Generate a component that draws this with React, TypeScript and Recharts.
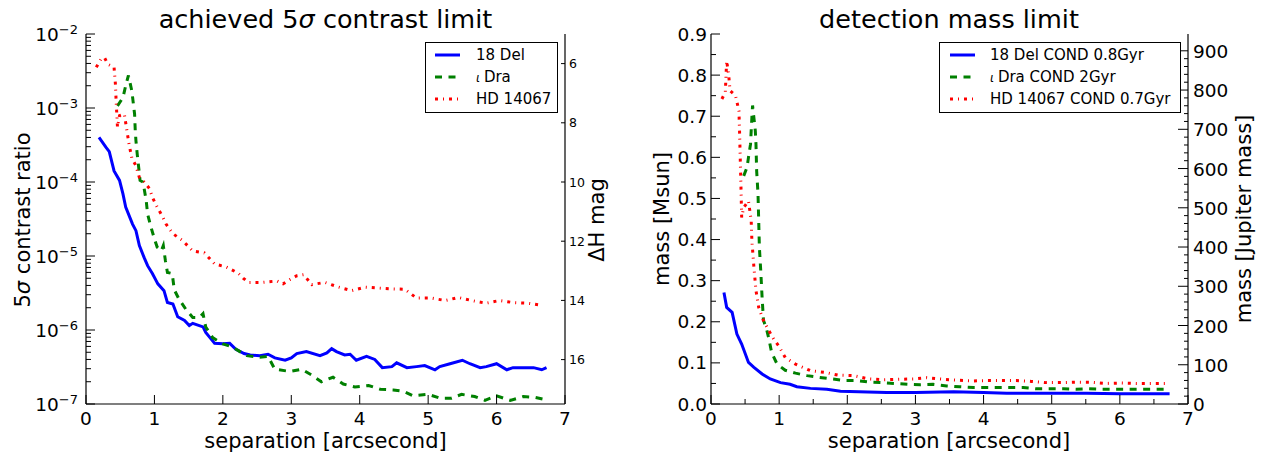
import React from 'react';
import { LineChart, Line, XAxis, YAxis } from 'recharts';

const FONT = '"DejaVu Sans", Verdana, sans-serif';

// axis ticks
const SEP_TICKS = [0, 1, 2, 3, 4, 5, 6, 7];
const SEP_HALF = [0.5, 1.5, 2.5, 3.5, 4.5, 5.5, 6.5];
const CONTRAST_EXP = [-7, -6, -5, -4, -3, -2];
const DH_TICKS = [6, 8, 10, 12, 14, 16];
const MSUN_TICKS = [0, 0.1, 0.2, 0.3, 0.4, 0.5, 0.6, 0.7, 0.8, 0.9];

// left panel: 5 sigma contrast ratio vs separation [arcsec]
const del18Contrast: [number, number][] = [
  [0.19, 4.0e-4], [0.29, 2.95e-4], [0.34, 2.57e-4], [0.41, 1.41e-4], [0.49, 1.05e-4],
  [0.54, 6.9e-5], [0.58, 4.6e-5], [0.68, 2.7e-5], [0.73, 2.2e-5], [0.78, 1.38e-5],
  [0.85, 9.5e-6], [0.9, 7.4e-6], [0.97, 5.8e-6], [1.05, 4.2e-6], [1.14, 3.4e-6],
  [1.19, 2.35e-6], [1.27, 2.24e-6], [1.34, 1.51e-6], [1.44, 1.35e-6], [1.51, 1.15e-6],
  [1.56, 1.23e-6], [1.71, 1.1e-6], [1.75, 9.3e-7], [1.88, 6.6e-7], [2.0, 6.5e-7],
  [2.1, 6.6e-7], [2.19, 5.5e-7], [2.31, 4.8e-7], [2.4, 4.6e-7], [2.54, 4.5e-7],
  [2.66, 4.7e-7], [2.76, 4.2e-7], [2.91, 3.9e-7], [3.0, 4.2e-7], [3.08, 4.8e-7],
  [3.22, 5.1e-7], [3.42, 4.5e-7], [3.52, 4.9e-7], [3.59, 5.6e-7], [3.66, 5.1e-7],
  [3.78, 4.6e-7], [3.86, 4.7e-7], [3.95, 3.9e-7], [4.1, 4.4e-7], [4.22, 4.0e-7],
  [4.33, 3.1e-7], [4.47, 3.2e-7], [4.54, 3.6e-7], [4.69, 3.1e-7], [4.83, 3.2e-7],
  [4.95, 3.3e-7], [5.1, 2.9e-7], [5.17, 3.2e-7], [5.32, 3.5e-7], [5.5, 3.9e-7],
  [5.61, 3.5e-7], [5.76, 3.1e-7], [5.85, 3.2e-7], [6.0, 3.5e-7], [6.15, 2.9e-7],
  [6.24, 3.1e-7], [6.37, 3.1e-7], [6.54, 3.1e-7], [6.66, 2.9e-7], [6.73, 3.1e-7],
];

const iotaDraContrast: [number, number][] = [
  [0.46, 1.07e-3], [0.54, 1.38e-3], [0.58, 2.0e-3], [0.62, 2.75e-3], [0.67, 1.7e-3],
  [0.71, 8.3e-4], [0.72, 4.9e-4], [0.73, 3.6e-4], [0.75, 2.3e-4], [0.77, 1.58e-4],
  [0.79, 1.05e-4], [0.83, 1.0e-4], [0.85, 8.1e-5], [0.88, 5.6e-5], [0.9, 3.7e-5],
  [0.95, 2.45e-5], [1.0, 1.7e-5], [1.04, 1.32e-5], [1.1, 1.17e-5], [1.13, 1.38e-5],
  [1.16, 8.7e-6], [1.19, 6.0e-6], [1.26, 5.8e-6], [1.29, 3.5e-6], [1.36, 2.6e-6],
  [1.46, 1.9e-6], [1.56, 1.48e-6], [1.66, 1.48e-6], [1.71, 1.66e-6], [1.75, 1.1e-6],
  [1.85, 7.9e-7], [2.0, 6.5e-7], [2.14, 5.9e-7], [2.25, 5.1e-7], [2.35, 4.5e-7],
  [2.54, 4.3e-7], [2.66, 4.4e-7], [2.76, 2.95e-7], [2.98, 2.75e-7], [3.15, 2.95e-7],
  [3.3, 2.45e-7], [3.44, 2.0e-7], [3.61, 2.3e-7], [3.76, 1.86e-7], [3.93, 1.7e-7],
  [4.13, 1.78e-7], [4.3, 1.58e-7], [4.49, 1.55e-7], [4.64, 1.48e-7], [4.78, 1.29e-7],
  [5.0, 1.35e-7], [5.17, 1.2e-7], [5.34, 1.2e-7], [5.49, 1.35e-7], [5.68, 1.26e-7],
  [5.83, 1.12e-7], [6.0, 1.29e-7], [6.2, 1.12e-7], [6.39, 1.26e-7], [6.56, 1.23e-7],
  [6.71, 1.15e-7],
];

const hd14067Contrast: [number, number][] = [
  [0.15, 3.55e-3], [0.22, 4.6e-3], [0.27, 4.8e-3], [0.32, 3.9e-3], [0.41, 3.55e-3],
  [0.43, 2.1e-3], [0.44, 1.26e-3], [0.45, 8.3e-4], [0.46, 5.5e-4], [0.49, 7.9e-4],
  [0.56, 8.3e-4], [0.59, 5.5e-4], [0.63, 3.2e-4], [0.67, 2.1e-4], [0.73, 1.66e-4],
  [0.78, 1.15e-4], [0.85, 1.0e-4], [0.93, 8.1e-5], [0.97, 6.2e-5], [1.05, 4.4e-5],
  [1.12, 3.4e-5], [1.17, 2.7e-5], [1.27, 2.0e-5], [1.41, 1.62e-5], [1.56, 1.17e-5],
  [1.73, 1.1e-5], [1.88, 7.8e-6], [2.05, 7.1e-6], [2.22, 5.9e-6], [2.3, 5.0e-6],
  [2.37, 4.4e-6], [2.57, 4.4e-6], [2.79, 4.6e-6], [2.88, 4.2e-6], [2.98, 4.8e-6],
  [3.08, 5.4e-6], [3.18, 5.6e-6], [3.3, 4.1e-6], [3.49, 4.4e-6], [3.69, 3.8e-6],
  [3.88, 3.4e-6], [4.08, 3.8e-6], [4.25, 3.7e-6], [4.47, 3.6e-6], [4.66, 3.55e-6],
  [4.83, 2.7e-6], [5.05, 2.7e-6], [5.25, 2.5e-6], [5.44, 2.75e-6], [5.64, 2.5e-6],
  [5.84, 2.3e-6], [6.04, 2.5e-6], [6.24, 2.35e-6], [6.46, 2.3e-6], [6.66, 2.15e-6],
];

// right panel: detection mass limit [Msun]
const del18Mass: [number, number][] = [
  [0.19, 0.271], [0.23, 0.235], [0.31, 0.223], [0.38, 0.17], [0.45, 0.146],
  [0.55, 0.101], [0.63, 0.089], [0.75, 0.073], [0.87, 0.061], [1.02, 0.052],
  [1.16, 0.048], [1.26, 0.042], [1.46, 0.038], [1.7, 0.036], [1.9, 0.031],
  [2.3, 0.029], [2.58, 0.028], [3.0, 0.028], [3.56, 0.03], [4.0, 0.028],
  [4.34, 0.026], [5.0, 0.026], [5.51, 0.026], [6.0, 0.025], [6.73, 0.025],
];

const iotaDraMass: [number, number][] = [
  [0.48, 0.555], [0.53, 0.576], [0.55, 0.6], [0.58, 0.632], [0.59, 0.665],
  [0.6, 0.697], [0.61, 0.726], [0.65, 0.665], [0.66, 0.632], [0.67, 0.567],
  [0.69, 0.511], [0.7, 0.446], [0.71, 0.381], [0.73, 0.324], [0.75, 0.259],
  [0.77, 0.203], [0.81, 0.186], [0.85, 0.158], [0.89, 0.125], [0.97, 0.097],
  [1.09, 0.082], [1.24, 0.075], [1.41, 0.069], [1.58, 0.065], [1.77, 0.061],
  [1.97, 0.057], [2.14, 0.057], [2.33, 0.053], [2.5, 0.052], [2.7, 0.05],
  [2.9, 0.048], [3.07, 0.047], [3.26, 0.048], [3.46, 0.044], [3.65, 0.042],
  [3.85, 0.04], [4.04, 0.04], [4.24, 0.04], [4.43, 0.04], [4.58, 0.04],
  [4.78, 0.037], [4.97, 0.037], [5.17, 0.037], [5.36, 0.036], [5.51, 0.037],
  [5.71, 0.036], [5.9, 0.036], [6.1, 0.036], [6.29, 0.036], [6.49, 0.036],
  [6.68, 0.036],
];

const hd14067Mass: [number, number][] = [
  [0.16, 0.742], [0.21, 0.758], [0.23, 0.835], [0.26, 0.799], [0.28, 0.762],
  [0.36, 0.75], [0.41, 0.713], [0.42, 0.657], [0.43, 0.592], [0.44, 0.527],
  [0.45, 0.454], [0.48, 0.478], [0.55, 0.494], [0.59, 0.446], [0.6, 0.397],
  [0.63, 0.332], [0.66, 0.276], [0.7, 0.235], [0.77, 0.203], [0.85, 0.178],
  [0.92, 0.158], [0.99, 0.142], [1.09, 0.113], [1.24, 0.097], [1.46, 0.081],
  [1.67, 0.077], [1.87, 0.07], [2.09, 0.069], [2.31, 0.061], [2.53, 0.059],
  [2.75, 0.06], [2.97, 0.061], [3.16, 0.064], [3.41, 0.06], [3.6, 0.058],
  [3.82, 0.056], [4.04, 0.057], [4.26, 0.057], [4.48, 0.057], [4.7, 0.055],
  [4.92, 0.052], [5.14, 0.052], [5.36, 0.053], [5.58, 0.053], [5.8, 0.05],
  [6.02, 0.051], [6.24, 0.05], [6.46, 0.05], [6.68, 0.05],
];

const MSUN_TO_MJUP = 1047.6;

const toPts = (arr: [number, number][]) => arr.map(([x, y]) => ({ x, y }));

const BLUE = '#0000ff';
const GREEN = '#008000';
const RED = '#ff0000';
const DASH = '7 6.5';
const DASHDOT = '3 5 1 5';

// minor tick positions
const logTicks = CONTRAST_EXP.slice(0, -1)
  .flatMap((e) => [1, 2, 3, 4, 5, 6, 7, 8, 9].map((m) => m * Math.pow(10, e)))
  .concat([Math.pow(10, CONTRAST_EXP[CONTRAST_EXP.length - 1])]);
const sepAllTicks = [...SEP_TICKS, ...SEP_HALF].sort((a, b) => a - b);
const msunAllTicks = [...MSUN_TICKS, ...MSUN_TICKS.slice(0, -1).map((v) => +(v + 0.05).toFixed(2))].sort((a, b) => a - b);
const mjupAllTicks: number[] = [];
for (let v = 0; v <= 900; v += 20) mjupAllTicks.push(v);

const LogTick = (props: any) => {
  const { x, y, payload } = props;
  const lg = Math.log10(payload.value);
  const major = Math.abs(lg - Math.round(lg)) < 1e-6;
  return (
    <g>
      <line x1={x} x2={x + (major ? 9 : 5)} y1={y} y2={y} stroke="#000" strokeWidth={1} />
      {major && (
        <text x={x - 8} y={y + 7} textAnchor="end" fontFamily={FONT} fontSize={18.5} fill="#000">
          10<tspan dy={-7} fontSize={13}>{'−' + Math.abs(Math.round(lg))}</tspan>
        </text>
      )}
    </g>
  );
};

const SepTick = (props: any) => {
  const { x, y, payload, top } = props;
  const isMajor = Number.isInteger(payload.value);
  const len = isMajor ? 9 : 5;
  return (
    <g>
      <line x1={x} x2={x} y1={y} y2={top ? y + len : y - len} stroke="#000" strokeWidth={1} />
      {!top && isMajor && (
        <text x={x} y={y + 21} textAnchor="middle" fontFamily={FONT} fontSize={18.5} fill="#000">
          {payload.value}
        </text>
      )}
    </g>
  );
};

const DhTick = (props: any) => {
  const { x, y, payload } = props;
  return (
    <g>
      <line x1={x} x2={x - 4} y1={y} y2={y} stroke="#000" strokeWidth={1} />
      <text x={x + 4} y={y + 4.5} textAnchor="start" fontFamily={FONT} fontSize={12.5} fill="#000">
        {payload.value}
      </text>
    </g>
  );
};

const MsunTick = (props: any) => {
  const { x, y, payload } = props;
  const major = Math.round(payload.value * 100) % 10 === 0;
  return (
    <g>
      <line x1={x} x2={x + (major ? 9 : 5)} y1={y} y2={y} stroke="#000" strokeWidth={1} />
      {major && (
        <text x={x - 4} y={y + 6.5} textAnchor="end" fontFamily={FONT} fontSize={18.5} fill="#000">
          {payload.value.toFixed(1)}
        </text>
      )}
    </g>
  );
};

const MjupTick = (props: any) => {
  const { x, y, payload } = props;
  const major = payload.value % 100 === 0;
  return (
    <g>
      <line x1={x} x2={x - (major ? 10 : 4)} y1={y} y2={y} stroke="#000" strokeWidth={1} />
      {major && (
        <text x={x + 5} y={y + 7} textAnchor="start" fontFamily={FONT} fontSize={18.5} fill="#000">
          {payload.value}
        </text>
      )}
    </g>
  );
};

const LegendBox = ({ left, top, width, items, sampleX, textX }: any) => (
  <div
    style={{
      position: 'absolute', left, top, width, height: 71, border: '1px solid #000',
      background: '#fff', boxSizing: 'border-box', fontFamily: FONT, fontSize: 15,
    }}
  >
    <svg width={width - 2} height={69} style={{ position: 'absolute', left: 0, top: 0 }}>
      {items.map((it: any, i: number) => (
        <g key={i}>
          <line x1={sampleX} x2={sampleX + 25} y1={12 + i * 22} y2={12 + i * 22}
            stroke={it.color} strokeWidth={3} strokeDasharray={it.dash} />
          <text x={textX} y={17 + i * 22} fontFamily={FONT} fontSize={15} fill="#000">
            {it.greek && <tspan fontStyle="italic" fontSize={12}>ι </tspan>}
            {it.label}
          </text>
        </g>
      ))}
    </svg>
  </div>
);

const axisLine = { stroke: '#000', strokeWidth: 1.2 };

export default function App() {
  const seriesLeft = [
    { data: toPts(del18Contrast), color: BLUE, dash: undefined },
    { data: toPts(iotaDraContrast), color: GREEN, dash: DASH },
    { data: toPts(hd14067Contrast), color: RED, dash: DASHDOT },
  ];
  const seriesRight = [
    { data: toPts(del18Mass), color: BLUE, dash: undefined },
    { data: toPts(iotaDraMass), color: GREEN, dash: DASH },
    { data: toPts(hd14067Mass), color: RED, dash: DASHDOT },
  ];

  return (
    <div style={{ position: 'absolute', left: 0, top: 0, width: 1263, height: 460, background: '#fff', fontFamily: FONT }}>
      <div style={{ position: 'absolute', left: 0, top: 0 }}>
        <LineChart width={640} height={460} margin={{ top: 34, right: 0, bottom: 0, left: 0 }}>
          <XAxis dataKey="x" type="number" domain={[0, 7]} ticks={SEP_TICKS} interval={0}
            height={56} tickSize={0} tickMargin={0} axisLine={axisLine} allowDataOverflow
            tick={(p: any) => <SepTick {...p} />} />
          <XAxis xAxisId="top" orientation="top" type="number" domain={[0, 7]} ticks={SEP_TICKS} interval={0}
            height={0} tickSize={0} tickMargin={0} axisLine={axisLine} allowDataOverflow
            tick={(p: any) => <SepTick {...p} top />} />
          <YAxis type="number" scale="log" domain={[1e-7, 1e-2]} ticks={logTicks} interval={0}
            width={86} tickSize={0} tickMargin={0} axisLine={axisLine} allowDataOverflow
            tick={(p: any) => <LogTick {...p} />} />
          <YAxis yAxisId="dh" orientation="right" type="number" domain={[5, 17.5]} reversed
            ticks={DH_TICKS} interval={0} width={75} tickSize={0} tickMargin={0}
            axisLine={axisLine} allowDataOverflow tick={(p: any) => <DhTick {...p} />} />
          {seriesLeft.map((s, i) => (
            <Line key={i} data={s.data} dataKey="y" type="linear" dot={false} activeDot={false}
              stroke={s.color} strokeWidth={3} strokeDasharray={s.dash} isAnimationActive={false} />
          ))}
        </LineChart>
      </div>

      <div style={{ position: 'absolute', left: 640, top: 0 }}>
        <LineChart width={623} height={460} margin={{ top: 34, right: 0, bottom: 0, left: 0 }}>
          <XAxis dataKey="x" type="number" domain={[0, 7]} ticks={sepAllTicks} interval={0}
            height={56} tickSize={0} tickMargin={0} axisLine={axisLine} allowDataOverflow
            tick={(p: any) => <SepTick {...p} />} />
          <XAxis xAxisId="top" orientation="top" type="number" domain={[0, 7]} ticks={sepAllTicks} interval={0}
            height={0} tickSize={0} tickMargin={0} axisLine={axisLine} allowDataOverflow
            tick={(p: any) => <SepTick {...p} top />} />
          <YAxis type="number" domain={[0, 0.9]} ticks={msunAllTicks} interval={0}
            width={71} tickSize={0} tickMargin={0} axisLine={axisLine} allowDataOverflow
            tick={(p: any) => <MsunTick {...p} />} />
          <YAxis yAxisId="mj" orientation="right" type="number" domain={[0, 0.9 * MSUN_TO_MJUP]}
            ticks={mjupAllTicks} interval={0} width={75} tickSize={0} tickMargin={0}
            axisLine={axisLine} allowDataOverflow tick={(p: any) => <MjupTick {...p} />} />
          {seriesRight.map((s, i) => (
            <Line key={i} data={s.data} dataKey="y" type="linear" dot={false} activeDot={false}
              stroke={s.color} strokeWidth={3} strokeDasharray={s.dash} isAnimationActive={false} />
          ))}
        </LineChart>
      </div>

      <svg width={1263} height={460} style={{ position: 'absolute', left: 0, top: 0, pointerEvents: 'none' }}>
        <g fontFamily={FONT} fill="#000">
          <text x={325.5} y={28} textAnchor="middle" fontSize={25.5}>
            achieved 5<tspan fontStyle="italic">σ</tspan> contrast limit
          </text>
          <text x={949} y={28} textAnchor="middle" fontSize={25.5}>detection mass limit</text>
          <text x={325.5} y={448} textAnchor="middle" fontSize={21}>separation [arcsecond]</text>
          <text x={949} y={448} textAnchor="middle" fontSize={21}>separation [arcsecond]</text>
          <text x={30} y={220} textAnchor="middle" fontSize={21} transform="rotate(-90 30 220)">
            5<tspan fontStyle="italic">σ</tspan> contrast ratio
          </text>
          <text x={604} y={220} textAnchor="middle" fontSize={21} transform="rotate(-90 604 220)">
            ΔH mag
          </text>
          <text x={669} y={219} textAnchor="middle" fontSize={21} transform="rotate(-90 669 219)">
            mass [Msun]
          </text>
          <text x={1251} y={219} textAnchor="middle" fontSize={21} transform="rotate(-90 1251 219)">
            mass [Jupiter mass]
          </text>
        </g>
      </svg>

      <LegendBox left={425} top={42} width={133} sampleX={9} textX={50}
        items={[
          { color: BLUE, label: '18 Del' },
          { color: GREEN, dash: DASH, label: 'Dra', greek: true },
          { color: RED, dash: DASHDOT, label: 'HD 14067' },
        ]} />
      <LegendBox left={939} top={42} width={242} sampleX={10} textX={50}
        items={[
          { color: BLUE, label: '18 Del COND 0.8Gyr' },
          { color: GREEN, dash: DASH, label: 'Dra COND 2Gyr', greek: true },
          { color: RED, dash: DASHDOT, label: 'HD 14067 COND 0.7Gyr' },
        ]} />
    </div>
  );
}
